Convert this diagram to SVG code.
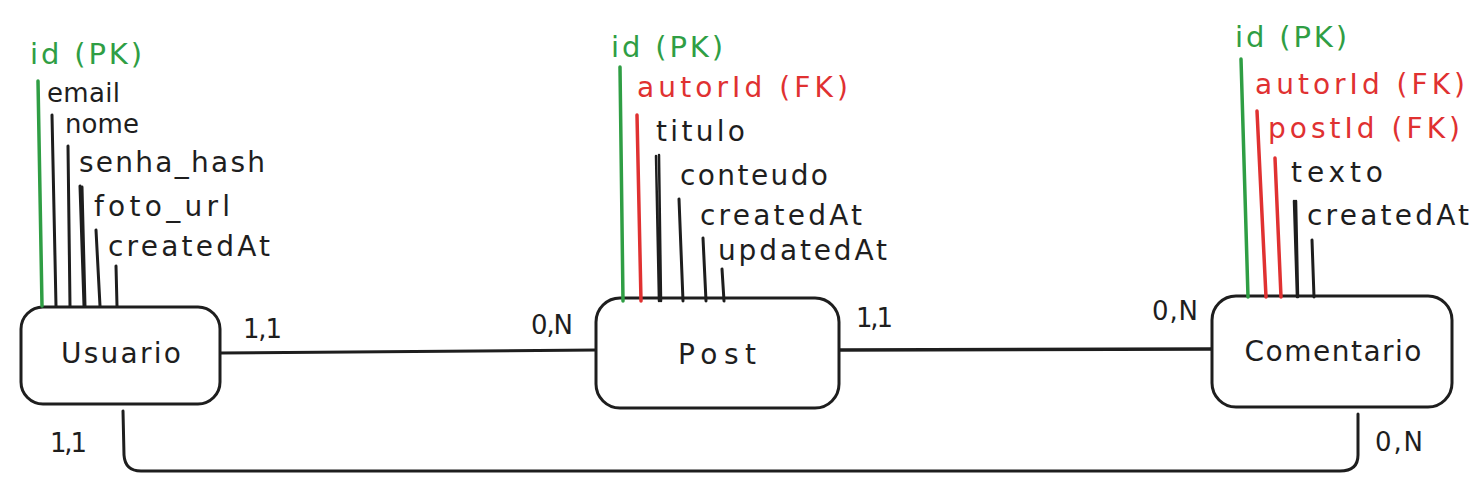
<svg xmlns="http://www.w3.org/2000/svg" width="1484" height="500" viewBox="0 0 1484 500">
<style>
  text { font-family: "DejaVu Sans", "Liberation Sans", sans-serif; fill: #1e1e1e; }
  .attr { font-size: 28px; }
  .sm { font-size: 26px; }
  .pk { fill: #2f9e44; font-size: 29px; }
  .fk { fill: #e03131; }
  .title { font-size: 28px; text-anchor: middle; }
  .card { font-size: 26px; }
  .box { fill: #ffffff; stroke: #1e1e1e; stroke-width: 3; }
  .ln { stroke: #1e1e1e; stroke-width: 3; stroke-linecap: round; fill: none; }
  .lg { stroke: #2f9e44; stroke-width: 3.5; stroke-linecap: round; fill: none; }
  .lr { stroke: #e03131; stroke-width: 3.5; stroke-linecap: round; fill: none; }
</style>

<g id="connectors">
  <path class="ln" d="M220 353 L597 350"/>
  <path class="ln" d="M840 350 L1212 349" style="stroke-width:3.5"/>
  <path class="ln" d="M123 411 L124 455 Q125 471 141 471 L1340 471 Q1358 471 1358 455 L1358 414"/>
  <text class="card" x="243" y="338" textLength="39">1,1</text>
  <text class="card" x="531" y="334" textLength="42">0,N</text>
  <text class="card" x="856" y="327" textLength="37">1,1</text>
  <text class="card" x="1152" y="320" textLength="46">0,N</text>
  <text class="card" x="50" y="452" textLength="37">1,1</text>
  <text class="card" x="1375" y="451" textLength="48">0,N</text>
</g>

<g id="node-usuario">
  <rect class="box" x="21" y="307" width="199" height="97" rx="22"/>
  <text class="title" x="121" y="363" textLength="120">Usuario</text>
  <text class="pk" x="30" y="64" textLength="112">id (PK)</text>
  <text class="attr sm" x="47" y="102" textLength="73">email</text>
  <text class="attr sm" x="65" y="133" textLength="74">nome</text>
  <text class="attr" x="79" y="172" textLength="186">senha_hash</text>
  <text class="attr" x="94" y="216" textLength="136">foto_url</text>
  <text class="attr" x="108" y="256" textLength="162">createdAt</text>
  <path class="lg" d="M38 81 L42 306"/>
  <path class="ln" d="M52 115 L56 306"/>
  <path class="ln" d="M68 146 L70 306"/>
  <path class="ln" d="M80 186 L84 306 M82 187 L85 306"/>
  <path class="ln" d="M96 230 L100 306"/>
  <path class="ln" d="M116 266 L117 306"/>
</g>

<g id="node-post">
  <rect class="box" x="596" y="298" width="243" height="110" rx="24"/>
  <text class="title" x="717" y="364" textLength="78">Post</text>
  <text class="pk" x="611" y="57" textLength="112">id (PK)</text>
  <text class="attr fk" x="637" y="97" textLength="211">autorId (FK)</text>
  <text class="attr" x="656" y="141" textLength="89">titulo</text>
  <text class="attr" x="680" y="185" textLength="148">conteudo</text>
  <text class="attr" x="700" y="225" textLength="162">createdAt</text>
  <text class="attr" x="718" y="260" textLength="169">updatedAt</text>
  <path class="lg" d="M620 67 L623 301"/>
  <path class="lr" d="M637 115 L641 301"/>
  <path class="ln" d="M656 156 L659 301 M659 155 L661 301" style="stroke-width:2.5"/>
  <path class="ln" d="M679 199 L683 301"/>
  <path class="ln" d="M703 238 L706 301"/>
  <path class="ln" d="M722 269 L724 301"/>
</g>

<g id="node-comentario">
  <rect class="box" x="1212" y="296" width="240" height="111" rx="24"/>
  <text class="title" x="1333" y="361" textLength="177">Comentario</text>
  <text class="pk" x="1235" y="47" textLength="112">id (PK)</text>
  <text class="attr fk" x="1255" y="94" textLength="210">autorId (FK)</text>
  <text class="attr fk" x="1268" y="138" textLength="192">postId (FK)</text>
  <text class="attr" x="1291" y="182" textLength="92">texto</text>
  <text class="attr" x="1307" y="225" textLength="162">createdAt</text>
  <path class="lg" d="M1241 59 L1248 297"/>
  <path class="lr" d="M1257 111 L1266 297"/>
  <path class="lr" d="M1275 158 L1281 297"/>
  <path class="ln" d="M1294 201 L1297 297 M1296 201 L1298 297" style="stroke-width:2.5"/>
  <path class="ln" d="M1312 240 L1314 297"/>
</g>
</svg>
